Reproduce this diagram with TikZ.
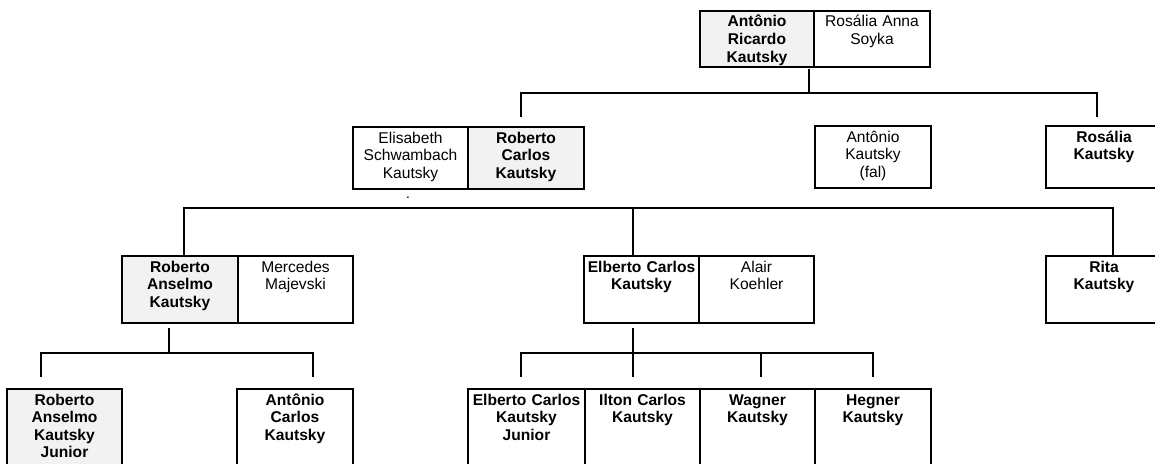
\documentclass[tikz,border=0pt]{standalone}
\usepackage{fontspec}
\setmainfont{Liberation Sans}
\usetikzlibrary{positioning}

\tikzset{
  pessoa/.style={draw, line width=2.4pt, anchor=north west, inner xsep=2pt, inner ysep=4pt,
    outer sep=0pt, text width=112pt, align=center, text height=12pt, text depth=#1,
    font=\fontsize{15.6}{17.6}\selectfont},
  negrito/.style={font=\fontsize{15.6}{17.6}\selectfont\bfseries},
  sangue/.style={fill=black!5, negrito},
  ligacao/.style={line width=1.6pt}
}

\begin{document}
\begin{tikzpicture}[x=1pt, y=-1pt]
  \clip (0,0) rectangle (1155,463);
  % Geracao 1
  \node[pessoa=36pt, sangue, text width=110pt] (antonioR) at (700,11) {Antônio\\Ricardo\\Kautsky};
  \node[pessoa=36pt, right=0pt of antonioR] (rosaliaA) {Rosália Anna\\Soyka};
  % Geracao 2
  \node[pessoa=42pt, text width=111pt] (elisabeth) at (353,127) {Elisabeth\\Schwambach\\Kautsky};
  \node[pessoa=42pt, sangue, right=0pt of elisabeth] (robertoC) {Roberto\\Carlos\\Kautsky};
  \node[pessoa=42pt] (antonioK) at (815,126) {Antônio\\Kautsky\\(fal)};
  \node[pessoa=42pt, negrito] (rosaliaK) at (1046,126) {Rosália\\Kautsky};
  \node[font=\bfseries] (ponto) at (408,198) {.};
  % Geracao 3
  \node[pessoa=47pt, sangue] (robertoA) at (122,256) {Roberto\\Anselmo\\Kautsky};
  \node[pessoa=47pt, text width=111pt, right=0pt of robertoA] (mercedes) {Mercedes\\Majevski};
  \node[pessoa=47pt, negrito, text width=111pt] (elberto) at (584,256) {Elberto Carlos\\Kautsky};
  \node[pessoa=47pt, text width=111pt, right=0pt of elberto] (alair) {Alair\\Koehler};
  \node[pessoa=47pt, negrito] (rita) at (1046,256) {Rita\\Kautsky};
  % Geracao 4
  \node[pessoa=70pt, sangue, text width=111pt] (robertoJ) at (7,389) {Roberto\\Anselmo\\Kautsky\\Junior};
  \node[pessoa=70pt, negrito] (antonioC) at (237,389) {Antônio\\Carlos\\Kautsky};
  \node[pessoa=70pt, negrito, text width=113pt] (elbertoJ) at (468,389) {Elberto Carlos\\Kautsky\\Junior};
  \node[pessoa=70pt, negrito, text width=111pt, right=0pt of elbertoJ] (ilton) {Ilton Carlos\\Kautsky};
  \node[pessoa=70pt, negrito, text width=111pt, right=0pt of ilton] (wagner) {Wagner\\Kautsky};
  \node[pessoa=70pt, negrito, text width=112pt, right=0pt of wagner] (hegner) {Hegner\\Kautsky};

  % ligacoes
  \coordinate (pai1) at (809,69);  \coordinate (bar1) at (809,93);
  \coordinate (f1a) at (521,117);  \coordinate (f1b) at (1097,117);
  \draw[ligacao] (pai1) -- (bar1) -| (f1a);
  \draw[ligacao] (bar1) -| (f1b);

  \coordinate (bar2) at (1113,208);
  \coordinate (f2a) at (184,256);  \coordinate (f2b) at (633,256);  \coordinate (f2c) at (1113,256);
  \draw[ligacao] (f2a) |- (bar2) -- (f2c);
  \draw[ligacao] (f2b |- bar2) -- (f2b);

  \coordinate (pai3) at (169,328); \coordinate (bar3) at (169,353);
  \coordinate (f3a) at (41,377);   \coordinate (f3b) at (313,377);
  \draw[ligacao] (pai3) -- (bar3) -| (f3a);
  \draw[ligacao] (bar3) -| (f3b);

  \coordinate (pai4) at (633,328); \coordinate (bar4) at (633,353);
  \coordinate (f4a) at (521,377);  \coordinate (f4b) at (633,377);
  \coordinate (f4c) at (761,377);  \coordinate (f4d) at (873,377);
  \draw[ligacao] (pai4) -- (f4b);
  \draw[ligacao] (f4a) |- (bar4) -| (f4d);
  \draw[ligacao] (f4c |- bar4) -- (f4c);
\end{tikzpicture}
\end{document}
